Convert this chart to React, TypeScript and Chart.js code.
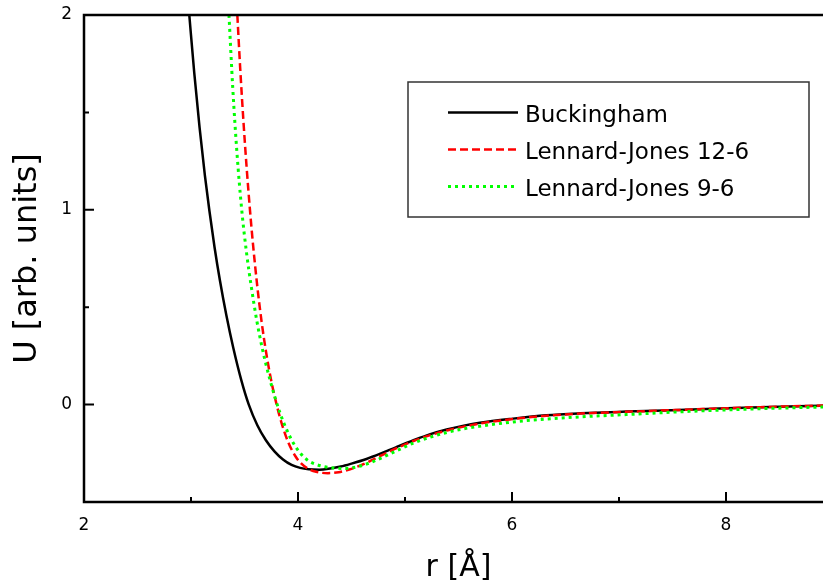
import React, { useEffect, useRef } from 'react';
import { Chart, registerables } from 'chart.js';

Chart.register(...registerables);

const FONT = "'DejaVu Sans', 'Liberation Sans', sans-serif";

const seriesLabels = ['Buckingham', 'Lennard-Jones 12-6', 'Lennard-Jones 9-6'];

const buckinghamR = [2.984, 3.03, 3.08, 3.13, 3.172, 3.22, 3.27, 3.33, 3.395, 3.47, 3.54, 3.62, 3.70, 3.78, 3.86, 3.94, 4.02, 4.10, 4.20, 4.30, 4.40, 4.50, 4.64, 4.77, 4.92, 5.08, 5.23, 5.39, 5.55, 5.70, 6.01, 6.32, 6.64, 7.07, 7.69, 8.32, 9.0];
const buckinghamU = [2.0, 1.705, 1.423, 1.176, 0.995, 0.808, 0.638, 0.46, 0.292, 0.126, 0.0, -0.106, -0.183, -0.24, -0.282, -0.31, -0.325, -0.332, -0.334, -0.328, -0.318, -0.303, -0.279, -0.252, -0.218, -0.183, -0.153, -0.128, -0.108, -0.093, -0.072, -0.055, -0.045, -0.036, -0.025, -0.013, -0.004];

const lj126R = [3.433, 3.46, 3.49, 3.52, 3.551, 3.58, 3.62, 3.66, 3.70, 3.75, 3.80, 3.85, 3.91, 3.97, 4.02, 4.09, 4.17, 4.28, 4.38, 4.48, 4.58, 4.68, 4.78, 4.90, 5.08, 5.23, 5.39, 5.55, 5.70, 6.01, 6.32, 6.64, 7.07, 7.69, 8.32, 9.0];
const lj126U = [2.0, 1.725, 1.455, 1.217, 1.0, 0.82, 0.605, 0.425, 0.275, 0.122, 0.0, -0.101, -0.195, -0.26, -0.297, -0.328, -0.345, -0.352, -0.347, -0.333, -0.313, -0.288, -0.261, -0.229, -0.187, -0.158, -0.133, -0.113, -0.097, -0.074, -0.057, -0.046, -0.037, -0.025, -0.013, -0.004];

const lj96R = [3.355, 3.39, 3.43, 3.474, 3.52, 3.565, 3.6135, 3.662, 3.70, 3.738, 3.785, 3.832, 3.894, 3.956, 4.018, 4.081, 4.128, 4.174, 4.25, 4.33, 4.42, 4.52, 4.62, 4.72, 4.82, 4.95, 5.08, 5.23, 5.39, 5.55, 5.70, 6.01, 6.32, 6.64, 7.07, 7.69, 8.32, 9.0];
const lj96U = [2.0, 1.628, 1.289, 1.0, 0.775, 0.6, 0.435, 0.299, 0.208, 0.128, 0.037, -0.043, -0.129, -0.197, -0.247, -0.282, -0.298, -0.308, -0.319, -0.325, -0.328, -0.323, -0.309, -0.288, -0.263, -0.23, -0.197, -0.168, -0.143, -0.124, -0.111, -0.089, -0.074, -0.063, -0.051, -0.034, -0.021, -0.011];

const xMajorTicks = [2, 4, 6, 8];
const xMinorTicks = [3, 5, 7];
const yMajorTicks = [0, 1, 2];
const yMinorTicks = [0.5, 1.5];
const xTitle = 'r [Å]';
const yTitle = 'U [arb. units]';

const pts = (xs: number[], ys: number[]) => xs.map((x, i) => ({ x, y: ys[i] }));

const framePlugin = {
  id: 'frameTicks',
  afterDatasetsDraw(chart: any) {
    const { ctx, chartArea: a, scales } = chart;
    const xs = scales.x;
    const ys = scales.y;
    ctx.save();
    ctx.strokeStyle = '#000';
    ctx.lineWidth = 2;
    ctx.beginPath();
    for (const v of xMajorTicks) {
      const p = xs.getPixelForValue(v);
      ctx.moveTo(p, a.bottom);
      ctx.lineTo(p, a.bottom - 10);
    }
    for (const v of xMinorTicks) {
      const p = xs.getPixelForValue(v);
      ctx.moveTo(p, a.bottom);
      ctx.lineTo(p, a.bottom - 5);
    }
    for (const v of yMajorTicks) {
      const p = ys.getPixelForValue(v);
      ctx.moveTo(a.left, p);
      ctx.lineTo(a.left + 10, p);
      ctx.moveTo(a.right, p);
      ctx.lineTo(a.right - 10, p);
    }
    for (const v of yMinorTicks) {
      const p = ys.getPixelForValue(v);
      ctx.moveTo(a.left, p);
      ctx.lineTo(a.left + 5, p);
      ctx.moveTo(a.right, p);
      ctx.lineTo(a.right - 5, p);
    }
    ctx.stroke();
    ctx.lineWidth = 2.5;
    ctx.strokeRect(a.left, a.top, a.right - a.left, a.bottom - a.top);
    ctx.restore();
  },
};

const legendPlugin = {
  id: 'boxLegend',
  afterDraw(chart: any) {
    const { ctx } = chart;
    const boxL = 408, boxT = 82, boxW = 401, boxH = 135;
    ctx.save();
    ctx.strokeStyle = '#333';
    ctx.lineWidth = 1.5;
    ctx.strokeRect(boxL, boxT, boxW, boxH);
    chart.data.datasets.forEach((ds: any, i: number) => {
      const lineY = 112.5 + i * 37;
      ctx.strokeStyle = ds.borderColor;
      ctx.lineWidth = ds.borderWidth;
      ctx.setLineDash(ds.borderDash || []);
      ctx.beginPath();
      ctx.moveTo(448, lineY);
      ctx.lineTo(518, lineY);
      ctx.stroke();
      ctx.setLineDash([]);
      ctx.fillStyle = '#000';
      ctx.font = `23px ${FONT}`;
      ctx.textBaseline = 'alphabetic';
      ctx.textAlign = 'left';
      ctx.fillText(ds.label, 525, 122 + i * 37);
    });
    ctx.restore();
  },
};

export default function App() {
  const ref = useRef<HTMLCanvasElement | null>(null);

  useEffect(() => {
    if (!ref.current) return;
    const chart = new Chart(ref.current, {
      type: 'line',
      data: {
        datasets: [
          {
            label: seriesLabels[0],
            data: pts(buckinghamR, buckinghamU),
            borderColor: '#000000',
            borderWidth: 2.5,
            pointRadius: 0,
            cubicInterpolationMode: 'monotone',
            order: 3,
          },
          {
            label: seriesLabels[1],
            data: pts(lj126R, lj126U),
            borderColor: '#ff0000',
            borderWidth: 2.5,
            borderDash: [8, 4],
            pointRadius: 0,
            cubicInterpolationMode: 'monotone',
            order: 2,
          },
          {
            label: seriesLabels[2],
            data: pts(lj96R, lj96U),
            borderColor: '#00ff00',
            borderWidth: 3,
            borderDash: [3, 4],
            pointRadius: 0,
            cubicInterpolationMode: 'monotone',
            order: 1,
          },
        ],
      } as any,
      options: {
        animation: false,
        responsive: false,
        devicePixelRatio: 1,
        layout: { padding: { left: 0, top: 15, right: 17, bottom: 0 } },
        plugins: { legend: { display: false }, tooltip: { enabled: false } },
        scales: {
          x: {
            type: 'linear',
            min: 2,
            max: 9,
            afterFit: (s: any) => { s.height = 85; s.paddingLeft = 0; s.paddingRight = 0; },
            afterBuildTicks: (s: any) => { s.ticks = xMajorTicks.map((v) => ({ value: v })); },
            grid: { display: false, drawTicks: false },
            border: { display: false },
            ticks: { font: { family: FONT, size: 17 }, color: '#000', padding: 13, maxRotation: 0, autoSkip: false },
            title: { display: true, text: xTitle, font: { family: FONT, size: 30 }, color: '#000', padding: { top: 0, bottom: 1 } },
          },
          y: {
            type: 'linear',
            min: -0.5,
            max: 2,
            afterFit: (s: any) => { s.width = 84; s.paddingTop = 0; s.paddingBottom = 0; },
            afterBuildTicks: (s: any) => { s.ticks = yMajorTicks.map((v) => ({ value: v })); },
            grid: { display: false, drawTicks: false },
            border: { display: false },
            ticks: { font: { family: FONT, size: 17 }, color: '#000', padding: 12, autoSkip: false },
            title: { display: true, text: yTitle, font: { family: FONT, size: 32 }, color: '#000', padding: { top: 8, bottom: 0 } },
          },
        },
      } as any,
      plugins: [framePlugin, legendPlugin],
    });
    return () => chart.destroy();
  }, []);

  return (
    <div style={{ position: 'fixed', left: 0, top: 0, width: 823, height: 587, overflow: 'hidden', background: '#fff' }}>
      <canvas ref={ref} width={850} height={587} style={{ display: 'block', width: 850, height: 587 }} />
    </div>
  );
}
